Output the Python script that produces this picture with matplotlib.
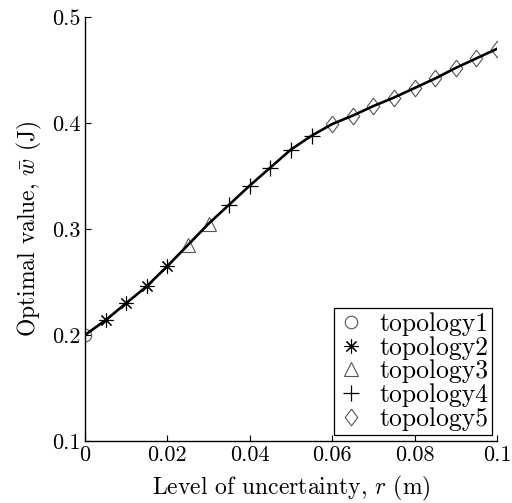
import numpy as np
import matplotlib
matplotlib.use("Agg")
from matplotlib import pyplot as plt

plt.rcParams['font.family'] = 'serif'
plt.rcParams['font.serif'] = ['cmr10']
plt.rcParams['mathtext.fontset'] = 'cm'
plt.rcParams['axes.unicode_minus'] = False

# data
r_top1 = [0.0]
w_top1 = [0.200]
r_top2 = [0.005, 0.010, 0.015, 0.020]
w_top2 = [0.214, 0.230, 0.246, 0.265]
r_top3 = [0.025, 0.030]
w_top3 = [0.285, 0.305]
r_top4 = [0.035, 0.040, 0.045, 0.050, 0.055]
w_top4 = [0.323, 0.341, 0.358, 0.375, 0.388]
r_top5 = [0.060, 0.065, 0.070, 0.075, 0.080, 0.085, 0.090, 0.095, 0.100]
w_top5 = [0.399, 0.407, 0.416, 0.424, 0.433, 0.442, 0.452, 0.461, 0.470]

xticks = [0, 0.02, 0.04, 0.06, 0.08, 0.1]
xtick_labels = ['0', '0.02', '0.04', '0.06', '0.08', '0.1']
yticks = [0.1, 0.2, 0.3, 0.4, 0.5]
ytick_labels = ['0.1', '0.2', '0.3', '0.4', '0.5']

r_all = r_top1 + r_top2 + r_top3 + r_top4 + r_top5
w_all = w_top1 + w_top2 + w_top3 + w_top4 + w_top5

diamond = [(0, 1), (0.75, 0), (0, -1), (-0.75, 0), (0, 1)]

fig = plt.figure(figsize=(5.12, 5.03), dpi=100)
ax = fig.add_axes([85/512, 1 - 441/503, 412/512, 424/503])

gray = '#555555'
ax.plot(r_top1, w_top1, ls='none', marker='o', ms=9, mfc='none', mec=gray, mew=0.8, label='topology1')
ax.plot(r_top2, w_top2, ls='none', marker=(8, 2, 0), ms=10, mec='black', mew=0.8, label='topology2')
ax.plot(r_top3, w_top3, ls='none', marker='^', ms=10, mfc='none', mec=gray, mew=0.8, label='topology3')
ax.plot(r_top4, w_top4, ls='none', marker='+', ms=11, mec='black', mew=0.9, label='topology4')
ax.plot(r_top5, w_top5, ls='none', marker=diamond, ms=12, mfc='none', mec=gray, mew=0.8, label='topology5')
ax.plot(r_all, w_all, color='black', lw=1.9, zorder=5)

ax.set_xlim(0, 0.1)
ax.set_ylim(0.1, 0.5)
ax.set_xticks(xticks)
ax.set_xticklabels(xtick_labels, fontsize=16)
ax.set_yticks(yticks)
ax.set_yticklabels(ytick_labels, fontsize=16)
ax.tick_params(direction='in', length=4, width=0.8, pad=3)
ax.spines['top'].set_visible(False)
ax.spines['right'].set_visible(False)
for s in ['left', 'bottom']:
    ax.spines[s].set_linewidth(1.0)

ax.set_xlabel(r'Level of uncertainty, $r$ (m)', fontsize=17, labelpad=7)
ax.set_ylabel(r'Optimal value, $\bar{w}$ (J)', fontsize=17, labelpad=6)

leg = ax.legend(loc='lower right', bbox_to_anchor=(0.988, 0.015), fontsize=18.5,
                frameon=True, fancybox=False, framealpha=1, edgecolor='black',
                handlelength=1.0, handletextpad=0.6, labelspacing=0.0,
                borderpad=0.15, borderaxespad=0)
leg.get_frame().set_linewidth(0.9)

fig.savefig('out.png', dpi=100)
